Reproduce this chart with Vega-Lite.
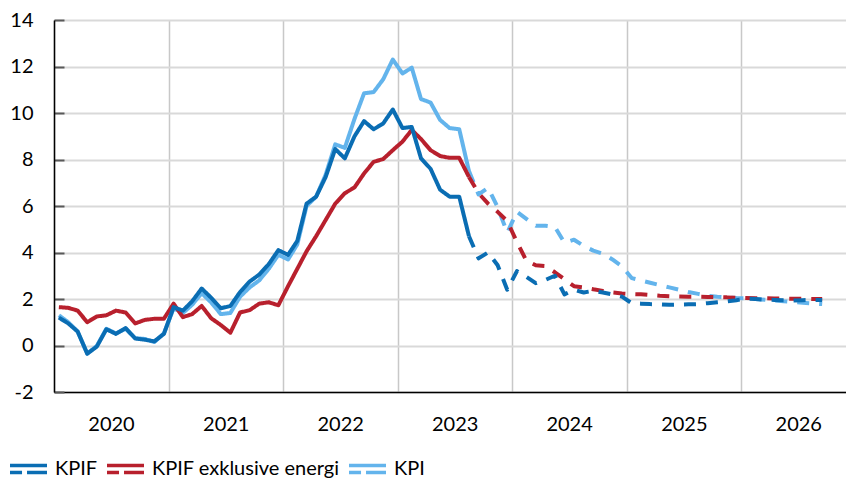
{
  "$schema": "https://vega.github.io/schema/vega-lite/v6.json",
  "width": 792,
  "height": 372,
  "autosize": {"type": "none"},
  "padding": {"left": 54, "top": 20, "right": 0, "bottom": 88},
  "background": "white",
  "config": {"view": {"stroke": null}, "font": "Lato"},
  "data": {"values": [
    {"d":"2020-01-01","s":"KPIF","t":"utfall","v":1.2},{"d":"2020-02-01","s":"KPIF","t":"utfall","v":0.95},{"d":"2020-03-01","s":"KPIF","t":"utfall","v":0.6},{"d":"2020-04-01","s":"KPIF","t":"utfall","v":-0.35},{"d":"2020-05-01","s":"KPIF","t":"utfall","v":-0.05},{"d":"2020-06-01","s":"KPIF","t":"utfall","v":0.7},{"d":"2020-07-01","s":"KPIF","t":"utfall","v":0.5},{"d":"2020-08-01","s":"KPIF","t":"utfall","v":0.75},{"d":"2020-09-01","s":"KPIF","t":"utfall","v":0.3},{"d":"2020-10-01","s":"KPIF","t":"utfall","v":0.25},{"d":"2020-11-01","s":"KPIF","t":"utfall","v":0.18},{"d":"2020-12-01","s":"KPIF","t":"utfall","v":0.5},
    {"d":"2021-01-01","s":"KPIF","t":"utfall","v":1.65},{"d":"2021-02-01","s":"KPIF","t":"utfall","v":1.5},{"d":"2021-03-01","s":"KPIF","t":"utfall","v":1.9},{"d":"2021-04-01","s":"KPIF","t":"utfall","v":2.45},{"d":"2021-05-01","s":"KPIF","t":"utfall","v":2.05},{"d":"2021-06-01","s":"KPIF","t":"utfall","v":1.6},{"d":"2021-07-01","s":"KPIF","t":"utfall","v":1.7},{"d":"2021-08-01","s":"KPIF","t":"utfall","v":2.3},{"d":"2021-09-01","s":"KPIF","t":"utfall","v":2.75},{"d":"2021-10-01","s":"KPIF","t":"utfall","v":3.05},{"d":"2021-11-01","s":"KPIF","t":"utfall","v":3.5},{"d":"2021-12-01","s":"KPIF","t":"utfall","v":4.1},
    {"d":"2022-01-01","s":"KPIF","t":"utfall","v":3.9},{"d":"2022-02-01","s":"KPIF","t":"utfall","v":4.5},{"d":"2022-03-01","s":"KPIF","t":"utfall","v":6.1},{"d":"2022-04-01","s":"KPIF","t":"utfall","v":6.4},{"d":"2022-05-01","s":"KPIF","t":"utfall","v":7.25},{"d":"2022-06-01","s":"KPIF","t":"utfall","v":8.45},{"d":"2022-07-01","s":"KPIF","t":"utfall","v":8.05},{"d":"2022-08-01","s":"KPIF","t":"utfall","v":9.0},{"d":"2022-09-01","s":"KPIF","t":"utfall","v":9.65},{"d":"2022-10-01","s":"KPIF","t":"utfall","v":9.3},{"d":"2022-11-01","s":"KPIF","t":"utfall","v":9.55},{"d":"2022-12-01","s":"KPIF","t":"utfall","v":10.15},
    {"d":"2023-01-01","s":"KPIF","t":"utfall","v":9.35},{"d":"2023-02-01","s":"KPIF","t":"utfall","v":9.4},{"d":"2023-03-01","s":"KPIF","t":"utfall","v":8.05},{"d":"2023-04-01","s":"KPIF","t":"utfall","v":7.6},{"d":"2023-05-01","s":"KPIF","t":"utfall","v":6.7},{"d":"2023-06-01","s":"KPIF","t":"utfall","v":6.4},{"d":"2023-07-01","s":"KPIF","t":"utfall","v":6.4},{"d":"2023-08-01","s":"KPIF","t":"utfall","v":4.7},
    {"d":"2023-08-01","s":"KPIF","t":"prognos","v":4.7},{"d":"2023-09-01","s":"KPIF","t":"prognos","v":3.75},{"d":"2023-10-01","s":"KPIF","t":"prognos","v":4.0},{"d":"2023-11-01","s":"KPIF","t":"prognos","v":3.45},{"d":"2023-12-01","s":"KPIF","t":"prognos","v":2.4},
    {"d":"2024-01-01","s":"KPIF","t":"prognos","v":3.2},{"d":"2024-02-01","s":"KPIF","t":"prognos","v":2.95},{"d":"2024-03-01","s":"KPIF","t":"prognos","v":2.68},{"d":"2024-04-01","s":"KPIF","t":"prognos","v":2.82},{"d":"2024-05-01","s":"KPIF","t":"prognos","v":3.0},{"d":"2024-06-01","s":"KPIF","t":"prognos","v":2.2},{"d":"2024-07-01","s":"KPIF","t":"prognos","v":2.4},{"d":"2024-08-01","s":"KPIF","t":"prognos","v":2.28},{"d":"2024-09-01","s":"KPIF","t":"prognos","v":2.35},{"d":"2024-10-01","s":"KPIF","t":"prognos","v":2.28},{"d":"2024-11-01","s":"KPIF","t":"prognos","v":2.2},{"d":"2024-12-01","s":"KPIF","t":"prognos","v":2.1},
    {"d":"2025-01-01","s":"KPIF","t":"prognos","v":1.82},{"d":"2025-02-01","s":"KPIF","t":"prognos","v":1.8},{"d":"2025-03-01","s":"KPIF","t":"prognos","v":1.78},{"d":"2025-04-01","s":"KPIF","t":"prognos","v":1.77},{"d":"2025-05-01","s":"KPIF","t":"prognos","v":1.75},{"d":"2025-06-01","s":"KPIF","t":"prognos","v":1.76},{"d":"2025-07-01","s":"KPIF","t":"prognos","v":1.77},{"d":"2025-08-01","s":"KPIF","t":"prognos","v":1.78},{"d":"2025-09-01","s":"KPIF","t":"prognos","v":1.82},{"d":"2025-10-01","s":"KPIF","t":"prognos","v":1.86},{"d":"2025-11-01","s":"KPIF","t":"prognos","v":1.9},{"d":"2025-12-01","s":"KPIF","t":"prognos","v":1.95},
    {"d":"2026-01-01","s":"KPIF","t":"prognos","v":2.02},{"d":"2026-02-01","s":"KPIF","t":"prognos","v":2.0},{"d":"2026-03-01","s":"KPIF","t":"prognos","v":1.97},{"d":"2026-04-01","s":"KPIF","t":"prognos","v":1.96},{"d":"2026-05-01","s":"KPIF","t":"prognos","v":1.95},{"d":"2026-06-01","s":"KPIF","t":"prognos","v":1.94},{"d":"2026-07-01","s":"KPIF","t":"prognos","v":1.95},{"d":"2026-08-01","s":"KPIF","t":"prognos","v":1.96},{"d":"2026-09-01","s":"KPIF","t":"prognos","v":1.96},

    {"d":"2020-01-01","s":"KPIF exklusive energi","t":"utfall","v":1.65},{"d":"2020-02-01","s":"KPIF exklusive energi","t":"utfall","v":1.62},{"d":"2020-03-01","s":"KPIF exklusive energi","t":"utfall","v":1.5},{"d":"2020-04-01","s":"KPIF exklusive energi","t":"utfall","v":1.0},{"d":"2020-05-01","s":"KPIF exklusive energi","t":"utfall","v":1.25},{"d":"2020-06-01","s":"KPIF exklusive energi","t":"utfall","v":1.3},{"d":"2020-07-01","s":"KPIF exklusive energi","t":"utfall","v":1.5},{"d":"2020-08-01","s":"KPIF exklusive energi","t":"utfall","v":1.42},{"d":"2020-09-01","s":"KPIF exklusive energi","t":"utfall","v":0.95},{"d":"2020-10-01","s":"KPIF exklusive energi","t":"utfall","v":1.1},{"d":"2020-11-01","s":"KPIF exklusive energi","t":"utfall","v":1.15},{"d":"2020-12-01","s":"KPIF exklusive energi","t":"utfall","v":1.15},
    {"d":"2021-01-01","s":"KPIF exklusive energi","t":"utfall","v":1.8},{"d":"2021-02-01","s":"KPIF exklusive energi","t":"utfall","v":1.22},{"d":"2021-03-01","s":"KPIF exklusive energi","t":"utfall","v":1.35},{"d":"2021-04-01","s":"KPIF exklusive energi","t":"utfall","v":1.7},{"d":"2021-05-01","s":"KPIF exklusive energi","t":"utfall","v":1.17},{"d":"2021-06-01","s":"KPIF exklusive energi","t":"utfall","v":0.88},{"d":"2021-07-01","s":"KPIF exklusive energi","t":"utfall","v":0.55},{"d":"2021-08-01","s":"KPIF exklusive energi","t":"utfall","v":1.42},{"d":"2021-09-01","s":"KPIF exklusive energi","t":"utfall","v":1.52},{"d":"2021-10-01","s":"KPIF exklusive energi","t":"utfall","v":1.8},{"d":"2021-11-01","s":"KPIF exklusive energi","t":"utfall","v":1.86},{"d":"2021-12-01","s":"KPIF exklusive energi","t":"utfall","v":1.73},
    {"d":"2022-01-01","s":"KPIF exklusive energi","t":"utfall","v":2.55},{"d":"2022-02-01","s":"KPIF exklusive energi","t":"utfall","v":3.3},{"d":"2022-03-01","s":"KPIF exklusive energi","t":"utfall","v":4.05},{"d":"2022-04-01","s":"KPIF exklusive energi","t":"utfall","v":4.7},{"d":"2022-05-01","s":"KPIF exklusive energi","t":"utfall","v":5.4},{"d":"2022-06-01","s":"KPIF exklusive energi","t":"utfall","v":6.1},{"d":"2022-07-01","s":"KPIF exklusive energi","t":"utfall","v":6.55},{"d":"2022-08-01","s":"KPIF exklusive energi","t":"utfall","v":6.8},{"d":"2022-09-01","s":"KPIF exklusive energi","t":"utfall","v":7.4},{"d":"2022-10-01","s":"KPIF exklusive energi","t":"utfall","v":7.9},{"d":"2022-11-01","s":"KPIF exklusive energi","t":"utfall","v":8.02},{"d":"2022-12-01","s":"KPIF exklusive energi","t":"utfall","v":8.4},
    {"d":"2023-01-01","s":"KPIF exklusive energi","t":"utfall","v":8.77},{"d":"2023-02-01","s":"KPIF exklusive energi","t":"utfall","v":9.27},{"d":"2023-03-01","s":"KPIF exklusive energi","t":"utfall","v":8.88},{"d":"2023-04-01","s":"KPIF exklusive energi","t":"utfall","v":8.4},{"d":"2023-05-01","s":"KPIF exklusive energi","t":"utfall","v":8.15},{"d":"2023-06-01","s":"KPIF exklusive energi","t":"utfall","v":8.07},{"d":"2023-07-01","s":"KPIF exklusive energi","t":"utfall","v":8.07},{"d":"2023-08-01","s":"KPIF exklusive energi","t":"utfall","v":7.25},
    {"d":"2023-08-01","s":"KPIF exklusive energi","t":"prognos","v":7.25},{"d":"2023-09-01","s":"KPIF exklusive energi","t":"prognos","v":6.55},{"d":"2023-10-01","s":"KPIF exklusive energi","t":"prognos","v":6.1},{"d":"2023-11-01","s":"KPIF exklusive energi","t":"prognos","v":5.75},{"d":"2023-12-01","s":"KPIF exklusive energi","t":"prognos","v":5.35},
    {"d":"2024-01-01","s":"KPIF exklusive energi","t":"prognos","v":4.45},{"d":"2024-02-01","s":"KPIF exklusive energi","t":"prognos","v":3.65},{"d":"2024-03-01","s":"KPIF exklusive energi","t":"prognos","v":3.45},{"d":"2024-04-01","s":"KPIF exklusive energi","t":"prognos","v":3.42},{"d":"2024-05-01","s":"KPIF exklusive energi","t":"prognos","v":3.15},{"d":"2024-06-01","s":"KPIF exklusive energi","t":"prognos","v":2.85},{"d":"2024-07-01","s":"KPIF exklusive energi","t":"prognos","v":2.55},{"d":"2024-08-01","s":"KPIF exklusive energi","t":"prognos","v":2.5},{"d":"2024-09-01","s":"KPIF exklusive energi","t":"prognos","v":2.42},{"d":"2024-10-01","s":"KPIF exklusive energi","t":"prognos","v":2.35},{"d":"2024-11-01","s":"KPIF exklusive energi","t":"prognos","v":2.28},{"d":"2024-12-01","s":"KPIF exklusive energi","t":"prognos","v":2.24},
    {"d":"2025-01-01","s":"KPIF exklusive energi","t":"prognos","v":2.21},{"d":"2025-02-01","s":"KPIF exklusive energi","t":"prognos","v":2.2},{"d":"2025-03-01","s":"KPIF exklusive energi","t":"prognos","v":2.17},{"d":"2025-04-01","s":"KPIF exklusive energi","t":"prognos","v":2.14},{"d":"2025-05-01","s":"KPIF exklusive energi","t":"prognos","v":2.12},{"d":"2025-06-01","s":"KPIF exklusive energi","t":"prognos","v":2.11},{"d":"2025-07-01","s":"KPIF exklusive energi","t":"prognos","v":2.1},{"d":"2025-08-01","s":"KPIF exklusive energi","t":"prognos","v":2.1},{"d":"2025-09-01","s":"KPIF exklusive energi","t":"prognos","v":2.09},{"d":"2025-10-01","s":"KPIF exklusive energi","t":"prognos","v":2.08},{"d":"2025-11-01","s":"KPIF exklusive energi","t":"prognos","v":2.07},{"d":"2025-12-01","s":"KPIF exklusive energi","t":"prognos","v":2.05},
    {"d":"2026-01-01","s":"KPIF exklusive energi","t":"prognos","v":2.04},{"d":"2026-02-01","s":"KPIF exklusive energi","t":"prognos","v":2.03},{"d":"2026-03-01","s":"KPIF exklusive energi","t":"prognos","v":2.03},{"d":"2026-04-01","s":"KPIF exklusive energi","t":"prognos","v":2.02},{"d":"2026-05-01","s":"KPIF exklusive energi","t":"prognos","v":2.02},{"d":"2026-06-01","s":"KPIF exklusive energi","t":"prognos","v":2.01},{"d":"2026-07-01","s":"KPIF exklusive energi","t":"prognos","v":2.01},{"d":"2026-08-01","s":"KPIF exklusive energi","t":"prognos","v":2.0},{"d":"2026-09-01","s":"KPIF exklusive energi","t":"prognos","v":2.0},

    {"d":"2020-01-01","s":"KPI","t":"utfall","v":1.3},{"d":"2020-02-01","s":"KPI","t":"utfall","v":1.0},{"d":"2020-03-01","s":"KPI","t":"utfall","v":0.6},{"d":"2020-04-01","s":"KPI","t":"utfall","v":-0.35},{"d":"2020-05-01","s":"KPI","t":"utfall","v":-0.02},{"d":"2020-06-01","s":"KPI","t":"utfall","v":0.72},{"d":"2020-07-01","s":"KPI","t":"utfall","v":0.52},{"d":"2020-08-01","s":"KPI","t":"utfall","v":0.72},{"d":"2020-09-01","s":"KPI","t":"utfall","v":0.32},{"d":"2020-10-01","s":"KPI","t":"utfall","v":0.28},{"d":"2020-11-01","s":"KPI","t":"utfall","v":0.15},{"d":"2020-12-01","s":"KPI","t":"utfall","v":0.52},
    {"d":"2021-01-01","s":"KPI","t":"utfall","v":1.6},{"d":"2021-02-01","s":"KPI","t":"utfall","v":1.4},{"d":"2021-03-01","s":"KPI","t":"utfall","v":1.75},{"d":"2021-04-01","s":"KPI","t":"utfall","v":2.25},{"d":"2021-05-01","s":"KPI","t":"utfall","v":1.85},{"d":"2021-06-01","s":"KPI","t":"utfall","v":1.35},{"d":"2021-07-01","s":"KPI","t":"utfall","v":1.4},{"d":"2021-08-01","s":"KPI","t":"utfall","v":2.1},{"d":"2021-09-01","s":"KPI","t":"utfall","v":2.5},{"d":"2021-10-01","s":"KPI","t":"utfall","v":2.8},{"d":"2021-11-01","s":"KPI","t":"utfall","v":3.3},{"d":"2021-12-01","s":"KPI","t":"utfall","v":3.9},
    {"d":"2022-01-01","s":"KPI","t":"utfall","v":3.7},{"d":"2022-02-01","s":"KPI","t":"utfall","v":4.35},{"d":"2022-03-01","s":"KPI","t":"utfall","v":6.0},{"d":"2022-04-01","s":"KPI","t":"utfall","v":6.4},{"d":"2022-05-01","s":"KPI","t":"utfall","v":7.35},{"d":"2022-06-01","s":"KPI","t":"utfall","v":8.65},{"d":"2022-07-01","s":"KPI","t":"utfall","v":8.5},{"d":"2022-08-01","s":"KPI","t":"utfall","v":9.75},{"d":"2022-09-01","s":"KPI","t":"utfall","v":10.85},{"d":"2022-10-01","s":"KPI","t":"utfall","v":10.9},{"d":"2022-11-01","s":"KPI","t":"utfall","v":11.45},{"d":"2022-12-01","s":"KPI","t":"utfall","v":12.3},
    {"d":"2023-01-01","s":"KPI","t":"utfall","v":11.7},{"d":"2023-02-01","s":"KPI","t":"utfall","v":11.95},{"d":"2023-03-01","s":"KPI","t":"utfall","v":10.6},{"d":"2023-04-01","s":"KPI","t":"utfall","v":10.45},{"d":"2023-05-01","s":"KPI","t":"utfall","v":9.7},{"d":"2023-06-01","s":"KPI","t":"utfall","v":9.35},{"d":"2023-07-01","s":"KPI","t":"utfall","v":9.3},{"d":"2023-08-01","s":"KPI","t":"utfall","v":7.5},
    {"d":"2023-08-01","s":"KPI","t":"prognos","v":7.5},{"d":"2023-09-01","s":"KPI","t":"prognos","v":6.5},{"d":"2023-10-01","s":"KPI","t":"prognos","v":6.78},{"d":"2023-11-01","s":"KPI","t":"prognos","v":5.95},{"d":"2023-12-01","s":"KPI","t":"prognos","v":4.85},
    {"d":"2024-01-01","s":"KPI","t":"prognos","v":5.75},{"d":"2024-02-01","s":"KPI","t":"prognos","v":5.45},{"d":"2024-03-01","s":"KPI","t":"prognos","v":5.15},{"d":"2024-04-01","s":"KPI","t":"prognos","v":5.15},{"d":"2024-05-01","s":"KPI","t":"prognos","v":5.1},{"d":"2024-06-01","s":"KPI","t":"prognos","v":4.42},{"d":"2024-07-01","s":"KPI","t":"prognos","v":4.55},{"d":"2024-08-01","s":"KPI","t":"prognos","v":4.28},{"d":"2024-09-01","s":"KPI","t":"prognos","v":4.08},{"d":"2024-10-01","s":"KPI","t":"prognos","v":3.95},{"d":"2024-11-01","s":"KPI","t":"prognos","v":3.7},{"d":"2024-12-01","s":"KPI","t":"prognos","v":3.4},
    {"d":"2025-01-01","s":"KPI","t":"prognos","v":2.9},{"d":"2025-02-01","s":"KPI","t":"prognos","v":2.8},{"d":"2025-03-01","s":"KPI","t":"prognos","v":2.7},{"d":"2025-04-01","s":"KPI","t":"prognos","v":2.6},{"d":"2025-05-01","s":"KPI","t":"prognos","v":2.5},{"d":"2025-06-01","s":"KPI","t":"prognos","v":2.4},{"d":"2025-07-01","s":"KPI","t":"prognos","v":2.3},{"d":"2025-08-01","s":"KPI","t":"prognos","v":2.22},{"d":"2025-09-01","s":"KPI","t":"prognos","v":2.14},{"d":"2025-10-01","s":"KPI","t":"prognos","v":2.1},{"d":"2025-11-01","s":"KPI","t":"prognos","v":2.07},{"d":"2025-12-01","s":"KPI","t":"prognos","v":2.04},
    {"d":"2026-01-01","s":"KPI","t":"prognos","v":2.03},{"d":"2026-02-01","s":"KPI","t":"prognos","v":2.0},{"d":"2026-03-01","s":"KPI","t":"prognos","v":1.97},{"d":"2026-04-01","s":"KPI","t":"prognos","v":1.94},{"d":"2026-05-01","s":"KPI","t":"prognos","v":1.9},{"d":"2026-06-01","s":"KPI","t":"prognos","v":1.87},{"d":"2026-07-01","s":"KPI","t":"prognos","v":1.84},{"d":"2026-08-01","s":"KPI","t":"prognos","v":1.81},{"d":"2026-09-01","s":"KPI","t":"prognos","v":1.78}
  ]},
  "encoding": {
    "x": {
      "field": "d", "timeUnit": "utcyearmonth", "type": "temporal", "bandPosition": 0.5,
      "scale": {"type": "utc", "nice": false, "domain": [{"year": 2020, "month": 1, "date": 1, "utc": true}, {"year": 2026, "month": 12, "date": 1, "utc": true}]},
      "axis": {
        "title": null, "format": "%Y",
        "values": [{"year": 2020, "month": 1, "date": 1, "utc": true}, {"year": 2021, "month": 1, "date": 1, "utc": true}, {"year": 2022, "month": 1, "date": 1, "utc": true}, {"year": 2023, "month": 1, "date": 1, "utc": true}, {"year": 2024, "month": 1, "date": 1, "utc": true}, {"year": 2025, "month": 1, "date": 1, "utc": true}, {"year": 2026, "month": 1, "date": 1, "utc": true}],
        "labelOffset": 57, "labelAlign": "center", "labelFlush": false, "labelOverlap": false, "labelBound": false,
        "ticks": false, "grid": true, "gridColor": "#c8c8c8", "gridWidth": 1.5,
        "domainColor": "#000000", "domainWidth": 1.5,
        "labelFont": "Lato", "labelFontSize": 20, "labelColor": "#000000", "labelPadding": 22
      }
    },
    "y": {
      "field": "v", "type": "quantitative",
      "scale": {"domain": [-2, 14], "nice": false, "zero": false},
      "axis": {
        "title": null, "values": [-2, 0, 2, 4, 6, 8, 10, 12, 14],
        "labelExpr": "'' + datum.value",
        "grid": true, "gridColor": "#d9d9d9", "gridWidth": 2,
        "domainColor": "#000000", "domainWidth": 1.5,
        "ticks": true, "tickSize": -10, "tickWidth": 2, "tickColor": "#595959",
        "labelFont": "Lato", "labelFontSize": 20, "labelColor": "#000000", "labelPadding": 31
      }
    },
    "color": {
      "field": "s", "type": "nominal",
      "scale": {"domain": ["KPIF", "KPIF exklusive energi", "KPI"], "range": ["#0a6db3", "#b8202d", "#63b4ec"]},
      "legend": {
        "title": null, "orient": "none", "direction": "horizontal", "legendX": -46, "legendY": 428,
        "symbolType": "M-1,-0.19H1M-1,0.19H-0.35M-0.08,0.19H1", "symbolSize": 1369, "symbolStrokeWidth": 3.5,
        "labelFont": "Lato", "labelFontSize": 20, "labelColor": "#000000", "labelOffset": 6, "columnPadding": 2, "labelLimit": 400
      }
    },
    "strokeDash": {
      "field": "t", "type": "nominal",
      "scale": {"domain": ["utfall", "prognos"], "range": [[1, 0], [12, 10]]},
      "legend": null
    }
  },
  "layer": [
    {"transform": [{"filter": "datum.s === 'KPI'"}], "mark": {"type": "line", "strokeWidth": 4, "strokeCap": "butt", "strokeJoin": "round"}},
    {"transform": [{"filter": "datum.s === 'KPIF exklusive energi'"}], "mark": {"type": "line", "strokeWidth": 4, "strokeCap": "butt", "strokeJoin": "round"}},
    {"transform": [{"filter": "datum.s === 'KPIF'"}], "mark": {"type": "line", "strokeWidth": 4, "strokeCap": "butt", "strokeJoin": "round"}}
  ]
}
